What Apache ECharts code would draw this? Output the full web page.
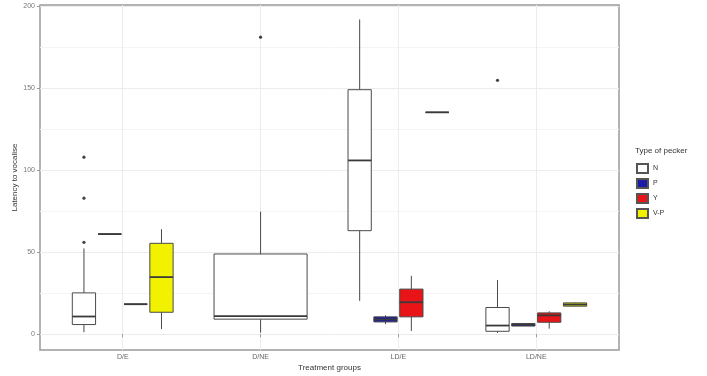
<!DOCTYPE html>
<html><head><meta charset="utf-8">
<script src="https://cdn.jsdelivr.net/npm/echarts@6/dist/echarts.min.js"></script>
<style>html,body{margin:0;padding:0;background:#fff}#c{width:707px;height:376px}</style>
</head><body><div id="c"></div>
<script>
const categories = ['D/E', 'D/NE', 'LD/E', 'LD/NE'];
const groups = ['N', 'P', 'Y', 'V-P'];
// [lower whisker, Q1, median, Q3, upper whisker] per category (null = absent)
const statsN  = [[1.2, 5.9, 10.8, 25.2, 52.3], [1, 9.2, 11, 48.9, 74.7], [20.3, 63.1, 105.9, 149, 191.8], [0.8, 1.8, 5.3, 16.3, 33]];
const statsP  = [[61, 61, 61, 61, 61], null, [6.1, 7.5, 9, 10.6, 11.6], [5, 5, 5.9, 6.5, 6.5]];
const statsY  = [[18.3, 18.3, 18.3, 18.3, 18.3], null, [2, 10.6, 19.5, 27.5, 35.6], [3.4, 7.3, 11.5, 13, 14]];
const statsVP = [[3.2, 13.4, 34.8, 55.4, 64], null, [135.2, 135.2, 135.2, 135.2, 135.2], [16.9, 17.1, 18.1, 19.1, 19.4]];
const outliersN = [[56, 82.9, 107.9], [181], [], [154.7]];
const yTicks = [0, 50, 100, 150, 200];
const yMinor = [25, 75, 125, 175];

const allStats = [statsN, statsP, statsY, statsVP];
const fills = ['#ffffff', '#1c1ca8', '#e81418', '#f2f200'];

const DODGE = 0.75;
function slot(c, g) {
  const present = allStats.map(s => s[c] != null);
  const n = present.filter(Boolean).length;
  let k = 0;
  for (let i = 0; i < g; i++) if (present[i]) k++;
  const w = DODGE / n;
  return { x: (c + 1) - DODGE / 2 + w * (k + 0.5), w: w * 0.9 };
}

function renderItem(params, api) {
  const x = api.value(0), bw = api.value(6);
  const lo = api.value(1), q1 = api.value(2), md = api.value(3), q3 = api.value(4), hi = api.value(5);
  const pTL = api.coord([x - bw / 2, q3]);
  const pBR = api.coord([x + bw / 2, q1]);
  const xc = api.coord([x, md])[0];
  const yLo = api.coord([x, lo])[1], yHi = api.coord([x, hi])[1], yMd = api.coord([x, md])[1];
  const fill = api.visual('color');
  const stroke = '#4a4a4a';
  return {
    type: 'group',
    children: [
      { type: 'line', shape: { x1: xc, y1: pTL[1], x2: xc, y2: yHi }, style: { stroke: stroke, lineWidth: 1 } },
      { type: 'line', shape: { x1: xc, y1: pBR[1], x2: xc, y2: yLo }, style: { stroke: stroke, lineWidth: 1 } },
      { type: 'rect', shape: { x: pTL[0], y: pTL[1], width: pBR[0] - pTL[0], height: pBR[1] - pTL[1] }, style: { fill: fill, stroke: stroke, lineWidth: 1 } },
      { type: 'line', shape: { x1: pTL[0], y1: yMd, x2: pBR[0], y2: yMd }, style: { stroke: '#3a3a3a', lineWidth: 1.8 } }
    ]
  };
}

const series = groups.map((g, gi) => {
  const data = [];
  allStats[gi].forEach((s, c) => {
    if (s) { const p = slot(c, gi); data.push([p.x].concat(s).concat([p.w])); }
  });
  return {
    name: g, type: 'custom', renderItem: renderItem, data: data,
    itemStyle: { color: fills[gi], borderColor: '#555', borderWidth: 1 },
    encode: { x: 0, y: [1, 5] }, z: 3
  };
});

const outData = [];
outliersN.forEach((arr, c) => { const p = slot(c, 0); arr.forEach(v => outData.push([p.x, v])); });
series.push({
  name: 'outliers', type: 'scatter', data: outData, symbolSize: 3.2,
  itemStyle: { color: '#111' }, z: 5, silent: true
});

const chart = echarts.init(document.getElementById('c'), null, { renderer: 'canvas' });
chart.setOption({
  animation: false,
  backgroundColor: '#fff',
  title: {
    text: 'Type of pecker', left: 630, top: 142,
    textStyle: { fontSize: 8, fontWeight: 'normal', color: '#333', fontFamily: 'Liberation Sans' }
  },
  legend: {
    data: groups, orient: 'vertical', left: 631, top: 158,
    itemWidth: 11, itemHeight: 9, itemGap: 4, icon: 'rect',
    textStyle: { fontSize: 7, color: '#333', fontFamily: 'Liberation Sans' }
  },
  grid: { left: 40, right: 88, top: 5, bottom: 26, containLabel: false, outerBoundsMode: 'none', show: true, borderColor: '#9a9a9a', borderWidth: 1.5, backgroundColor: 'transparent' },
  xAxis: [{
    type: 'value', min: 0.4, max: 4.6,
    name: 'Treatment groups', nameLocation: 'middle', nameGap: 14, nameMoveOverlap: false,
    nameTextStyle: { fontSize: 8, color: '#333', fontFamily: 'Liberation Sans' },
    axisLine: { show: false },
    axisTick: { show: true, length: 3, lineStyle: { color: '#999' }, customValues: [1, 2, 3, 4] },
    axisLabel: { fontSize: 7, color: '#666', margin: 4, fontFamily: 'Liberation Sans', customValues: [1, 2, 3, 4], formatter: v => categories[Math.round(v) - 1] || '' },
    splitLine: { show: true, lineStyle: { color: '#ececec', width: 1 } }
  }],
  yAxis: [{
    type: 'value', min: -9.6, max: 200.6,
    name: 'Latency to vocalise', nameLocation: 'middle', nameGap: 21, nameMoveOverlap: false,
    nameTextStyle: { fontSize: 8, color: '#333', fontFamily: 'Liberation Sans' },
    axisLine: { show: false },
    axisTick: { show: true, length: 3, lineStyle: { color: '#999' }, customValues: yTicks },
    axisLabel: { fontSize: 7, color: '#777', margin: 5, fontFamily: 'Liberation Sans', customValues: yTicks },
    splitLine: { show: true, lineStyle: { color: '#ececec', width: 1 } }
  }, {
    type: 'value', min: -9.6, max: 200.6, position: 'left',
    axisLine: { show: false }, axisLabel: { show: false },
    axisTick: { show: false, customValues: yMinor },
    splitLine: { show: true, lineStyle: { color: '#f4f4f4', width: 1 } }
  }],
  series: series
});
</script></body></html>
